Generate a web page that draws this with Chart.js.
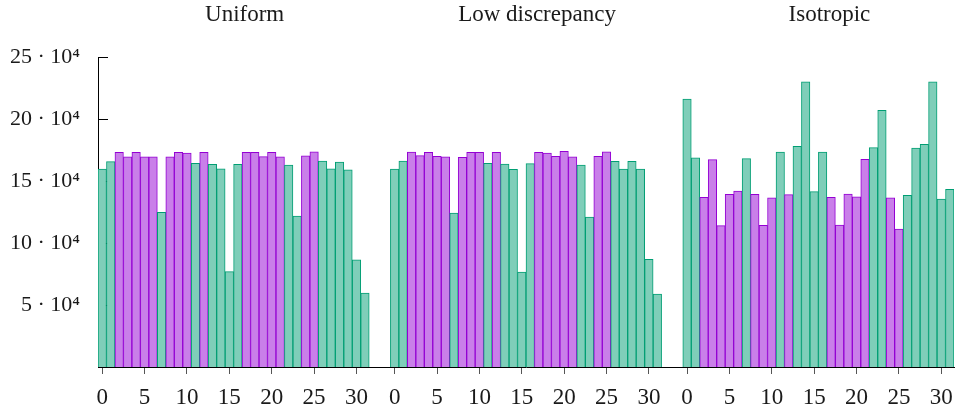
<!DOCTYPE html>
<html lang="en">
<head>
  <meta charset="UTF-8" />
  <title>Samples per bin</title>
  <script src="https://cdn.jsdelivr.net/npm/chart.js"></script>
  <style>
    html, body { margin: 0; padding: 0; background: #fff; }
    .chart-box { width: 965px; height: 407px; position: relative; }
  </style>
</head>
<body>
  <div class="chart-box">
    <canvas id="binChart"></canvas>
  </div>

  <script>
    // data
    const groupTitles = ['Uniform', 'Low discrepancy', 'Isotropic'];
    const xTickLabels = [0, 5, 10, 15, 20, 25, 30];
    const yTickValues = [50000, 100000, 150000, 200000, 250000];
    // g = green bar, p = purple bar (same pattern in all three groups)
    const barKind = ['g','g','p','p','p','p','p','g','p','p','p','g','p','g','g','g',
                     'g','p','p','p','p','p','g','g','p','p','g','g','g','g','g','g'];
    const uniformValues = [159700, 165600, 173100, 169400, 173100, 169400, 169400, 124700,
                           169400, 173100, 172600, 164200, 173100, 163400, 159900, 76900,
                           163400, 173100, 173100, 169700, 173100, 169400, 162900, 121800,
                           170200, 173600, 166100, 159900, 165300, 159100, 86500, 59700];
    const lowDiscrepancyValues = [159700, 166100, 173400, 170400, 173100, 169900, 169400, 124200,
                                  169000, 173100, 173100, 164200, 173100, 163700, 159400, 76600,
                                  164000, 173100, 172600, 169900, 173900, 169400, 162900, 121000,
                                  169900, 173600, 165800, 159700, 165800, 159700, 86800, 58900];
    const isotropicValues = [216100, 168600, 136800, 167200, 114000, 139200, 141900, 168000,
                             139200, 114200, 136500, 173400, 139000, 177900, 229900, 141400,
                             173400, 136800, 114500, 139500, 137300, 167400, 176900, 207000,
                             136500, 111300, 138400, 176600, 179500, 229900, 135500, 143200];

    const GROUP_STEP = 34.5;   // 32 bars + gap, in bar units
    const FONT = 'Liberation Serif';
    const fillFor = { g: '#7fceb9', p: '#c97fe9' };
    const edgeFor = { g: '#009e73', p: '#9400d3' };

    const series = [uniformValues, lowDiscrepancyValues, isotropicValues];
    const datasets = series.map((vals, g) => ({
      label: groupTitles[g],
      data: vals.map((v, i) => ({ x: g * GROUP_STEP + i, y: v })),
      backgroundColor: barKind.map(k => fillFor[k]),
      borderColor: barKind.map(k => edgeFor[k]),
      borderWidth: { top: 1, left: 1, right: 1, bottom: 0 },
      borderSkipped: false,
      barPercentage: 1,
      categoryPercentage: 1,
      grouped: false
    }));

    // inward ticks on the y axis, drawn under the bars
    const yInnerTicks = {
      id: 'yInnerTicks',
      beforeDatasetsDraw(chart) {
        const { ctx, scales: { y }, chartArea } = chart;
        ctx.save();
        ctx.strokeStyle = '#000';
        ctx.lineWidth = 1;
        yTickValues.forEach(v => {
          const py = Math.round(y.getPixelForValue(v)) + 0.5;
          ctx.beginPath();
          ctx.moveTo(chartArea.left, py);
          ctx.lineTo(chartArea.left + 10, py);
          ctx.stroke();
        });
        ctx.restore();
      }
    };

    // one title above each group
    const groupTitlePlugin = {
      id: 'groupTitles',
      afterDraw(chart) {
        const { ctx, scales: { x } } = chart;
        ctx.save();
        ctx.font = '23px "' + FONT + '"';
        ctx.fillStyle = '#1a1a1a';
        ctx.textAlign = 'center';
        ctx.textBaseline = 'alphabetic';
        groupTitles.forEach((t, g) => {
          ctx.fillText(t, x.getPixelForValue(g * GROUP_STEP + 16.8), 21);
        });
        ctx.restore();
      }
    };

    new Chart(document.getElementById('binChart'), {
      type: 'bar',
      data: { datasets },
      options: {
        responsive: true,
        maintainAspectRatio: false,
        animation: false,
        layout: { padding: { top: 57, right: 11, bottom: 0, left: 0 } },
        plugins: { legend: { display: false }, tooltip: { enabled: false } },
        scales: {
          x: {
            type: 'linear',
            offset: false,
            min: -0.5,
            max: 2 * GROUP_STEP + 31.5,
            afterBuildTicks(scale) {
              const ticks = [];
              groupTitles.forEach((_, g) => {
                xTickLabels.forEach(t => ticks.push({ value: g * GROUP_STEP + t }));
              });
              scale.ticks = ticks;
            },
            afterFit(scale) { scale.height = 40; },
            grid: { offset: false, drawOnChartArea: false, drawTicks: true, tickLength: 7, color: '#555' },
            border: { display: true, color: '#000', width: 1 },
            ticks: {
              autoSkip: false,
              maxRotation: 0,
              padding: 10,
              color: '#1a1a1a',
              font: { family: FONT, size: 23 },
              callback: (v, i) => String(xTickLabels[i % xTickLabels.length])
            }
          },
          y: {
            min: 0,
            max: 250000,
            afterBuildTicks(scale) {
              scale.ticks = yTickValues.map(v => ({ value: v }));
            },
            afterFit(scale) { scale.width = 98; },
            grid: { drawOnChartArea: false, drawTicks: false },
            border: { display: true, color: '#000', width: 1 },
            ticks: {
              padding: 18,
              color: '#1a1a1a',
              font: { family: FONT, size: 22 },
              callback: v => (v / 10000) + ' \u00b7 10\u2074'
            }
          }
        }
      },
      plugins: [yInnerTicks, groupTitlePlugin]
    });
  </script>
</body>
</html>
